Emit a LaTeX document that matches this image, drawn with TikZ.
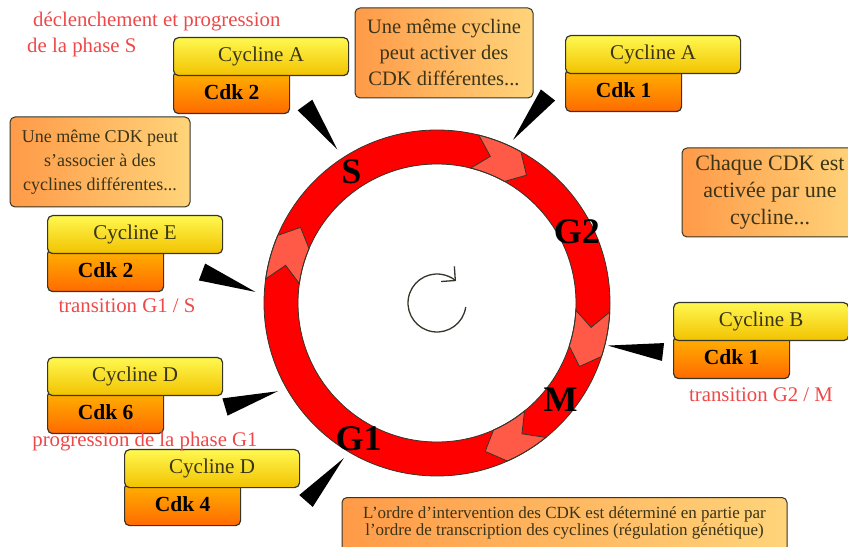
\documentclass[tikz,border=0pt]{standalone}
\usepackage{fontspec}
\setmainfont{Liberation Serif}
\usetikzlibrary{calc,arrows.meta}
\definecolor{ringred}{HTML}{FF0000}
\definecolor{segred}{HTML}{FF5A48}
\definecolor{labred}{HTML}{EE4848}
\definecolor{edge}{HTML}{35352A}
\definecolor{ink}{HTML}{3A3418}
\definecolor{yelA}{HTML}{FFF850}
\definecolor{yelB}{HTML}{F2C200}
\definecolor{orgA}{HTML}{FFB400}
\definecolor{orgB}{HTML}{FF6A00}
\definecolor{notA}{HTML}{FF9A48}
\definecolor{notB}{HTML}{FFD47A}
\tikzset{
  cyc/.style={draw=edge, line width=1.2pt, rounded corners=5pt, anchor=north west,
    top color=yelA, bottom color=yelB, minimum width=175pt, minimum height=38pt,
    text=ink, font=\fontsize{21}{24}\selectfont},
  cdk/.style={draw=edge, line width=1.2pt, rounded corners=5pt, anchor=north west,
    top color=orgA, bottom color=orgB, minimum width=116pt, minimum height=43pt,
    font=\bfseries\fontsize{21.5}{24}\selectfont},
  note/.style={draw=edge, line width=1pt, rounded corners=5pt, align=center,
    left color=notA, right color=notB, text=ink},
  lab/.style={text=labred, font=\fontsize{20.8}{26}\selectfont},
  phase/.style={font=\bfseries\fontsize{36}{36}\selectfont},
}
\begin{document}
\begin{tikzpicture}[x=1pt,y=1pt]
    \useasboundingbox (0,0) rectangle (848,546);
    \clip (0,0) rectangle (848,546);
    \coordinate (cc) at (437,243);
    %% cycle ring
    \fill[ringred, even odd rule] (cc) circle (173) (cc) circle (139);
    \foreach \a/\b in {76/61,172/157,-3/-18,-51/-66}
        \filldraw[fill=segred, draw=edge, line width=0.8pt] ($(cc)+(\a:173)$) arc[start angle=\a, end angle=\b, radius=173]
            -- ($(cc)+(\b-6:156)$) -- ($(cc)+(\b:139)$) arc[start angle=\b, end angle=\a, radius=139]
            -- ($(cc)+(\a-6:156)$) -- cycle;
    \draw[edge, line width=0.8pt] (cc) circle (173) (cc) circle (139);
    \foreach \a/\p in {123/S,27/G2,-38/M,-120/G1}
        \node[phase] (ph\p) at ($(cc)+(\a:157)$) {\p};
    \draw[edge, line width=1.3pt, -{Straight Barb[length=10pt,width=20pt]}] ($(cc)+(-8:29)$) arc[start angle=-8, end angle=-311, radius=29];
    %% cyclin / cdk pairs
    \foreach \n/\x/\y/\c/\k in {sa/173/509/Cycline A/Cdk 2, ga/565/511/Cycline A/Cdk 1,
        ge/47/331/Cycline E/Cdk 2, gd/47/189/Cycline D/Cdk 6,
        gf/124/97/Cycline D/Cdk 4, gb/673/244/Cycline B/Cdk 1}{
        \node[cdk] (k\n) at (\x,\y-33) {\k};
        \node[cyc] (c\n) at (\x,\y) {\c};
    }
    %% spikes towards the ring
    \foreach \n/\bx/\by/\a/\r in {1/305/441/123/183, 2/548/451/65/180, 3/202/274/176.5/182,
        4/225/139/209/182, 5/306/45/239/181, 6/663/194/-14/176}{
        \coordinate (b\n) at (\bx,\by);
        \coordinate (t\n) at ($(cc)+(\a:\r)$);
        \fill ($(b\n)!9pt!90:(t\n)$) -- ($(b\n)!9pt!-90:(t\n)$) -- (t\n) -- cycle;
    }
    %% notes
    \node[note, minimum width=180pt, minimum height=90pt, font=\fontsize{18}{24}\selectfont] (n1) at (100,384)
        {Une même CDK peut\\s'associer à des\\cyclines différentes...};
    \node[note, minimum width=178pt, minimum height=90pt, font=\fontsize{20.5}{26}\selectfont] (n2) at (444,493)
        {Une même cycline\\peut activer des\\CDK différentes...};
    \node[note, minimum width=176pt, minimum height=89pt, font=\fontsize{22}{27}\selectfont] (n3) at (770,353.5)
        {Chaque CDK est\\activée par une\\cycline...};
    \node[note, anchor=north, minimum width=445pt, inner ysep=9pt, font=\fontsize{17}{17}\selectfont] (n4) at (564.5,49)
        {L'ordre d'intervention des CDK est déterminé en partie par\\l'ordre de transcription des cyclines (régulation génétique)\\\mbox{}};
    %% red captions
    \node[lab, anchor=north west, align=left, inner sep=0pt] (lS) at (27,534)
        {\hspace*{6pt}déclenchement et progression\\de la phase S};
    \node[lab] (lE) at (127,240) {transition G1 / S};
    \node[lab] (lD) at (145,104) {progression de la phase G1};
    \node[lab] (lB) at (761,151) {transition G2 / M};
\end{tikzpicture}
\end{document}
